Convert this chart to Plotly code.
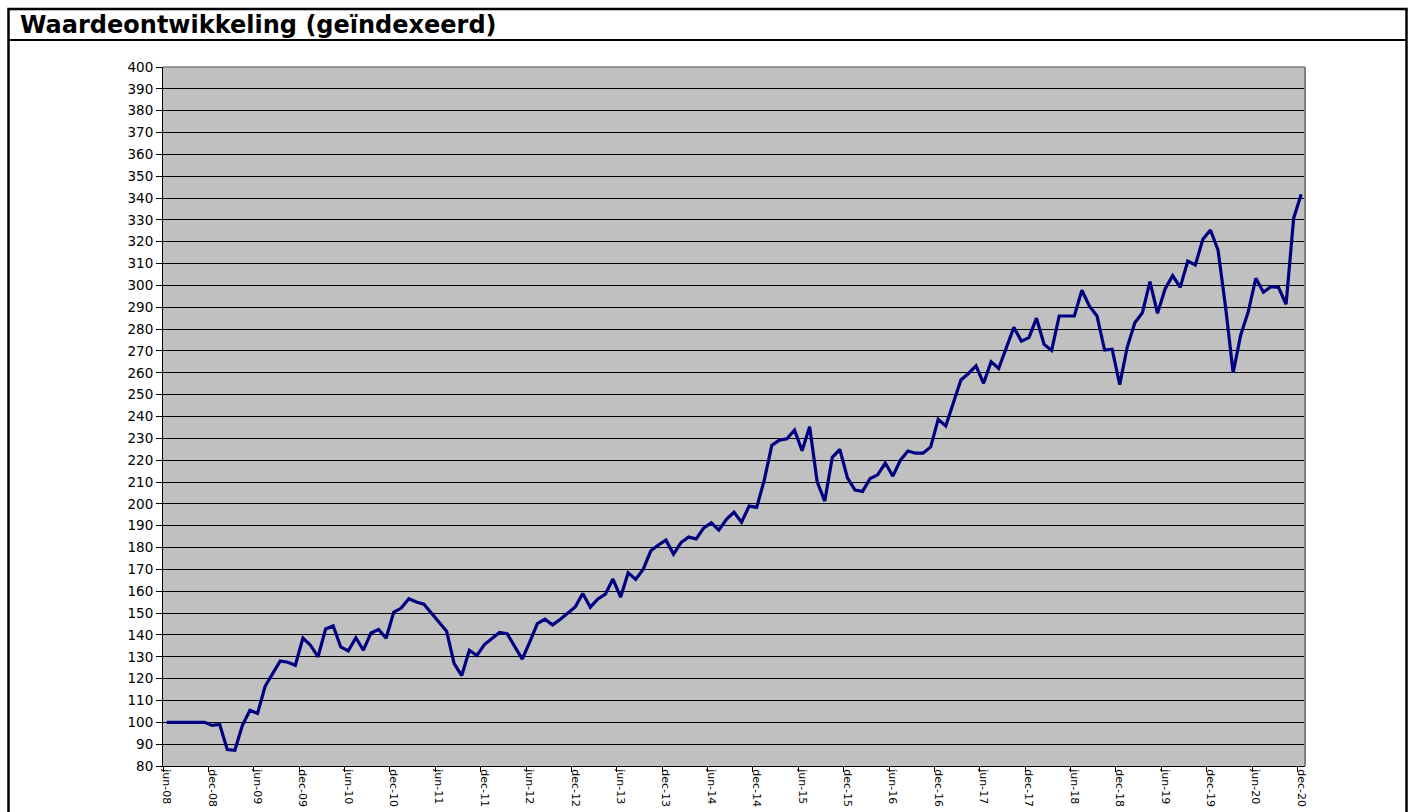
import plotly.graph_objects as go

# ---- data -------------------------------------------------------------
month_names = ["jan", "feb", "mrt", "apr", "mei", "jun", "jul", "aug", "sep", "okt", "nov", "dec"]
start_year, start_month = 2008, 6   # jun-08
n_points = 151                       # through dec-20

months = []
for k in range(n_points):
    m = (start_month - 1 + k) % 12
    y = start_year + (start_month - 1 + k) // 12
    months.append(f"{month_names[m]}-{y % 100:02d}")

index_values = [
    100.0, 100.0, 100.0, 100.0, 100.0, 100.0, 98.6, 99.0, 87.5, 87.2,
    98.6, 105.5, 104.1, 116.5, 122.3, 128.1, 127.5, 126.1, 138.6, 135.3,
    130.0, 142.7, 144.1, 134.5, 132.7, 138.7, 133.0, 140.9, 142.5, 138.5,
    150.4, 152.3, 156.6, 155.1, 154.1, 149.8, 146.0, 141.7, 126.9, 121.4,
    133.0, 130.6, 135.6, 138.2, 141.1, 140.6, 135.0, 128.9, 136.8, 145.2,
    147.2, 144.6, 147.1, 149.8, 152.8, 159.0, 152.7, 156.5, 158.7, 165.6,
    157.3, 168.4, 165.4, 170.1, 178.5, 181.2, 183.4, 177.0, 182.3, 184.8,
    184.0, 189.0, 191.3, 188.0, 192.9, 196.2, 191.6, 199.0, 198.4, 210.9,
    226.8, 229.2, 229.8, 233.8, 224.3, 235.3, 210.1, 201.3, 221.3, 224.9,
    211.9, 206.3, 205.7, 211.6, 213.3, 218.7, 212.7, 220.0, 224.2, 223.2,
    223.2, 226.1, 238.7, 235.7, 246.0, 256.7, 259.7, 263.2, 255.2, 265.1,
    262.0, 271.7, 280.8, 274.5, 276.1, 285.0, 273.0, 270.3, 286.0, 286.0,
    286.0, 297.8, 290.5, 286.0, 270.4, 270.8, 254.6, 271.8, 282.9, 287.5,
    301.7, 287.2, 298.4, 304.5, 299.1, 311.2, 309.4, 321.1, 325.4, 316.2,
    290.0, 260.0, 277.3, 288.0, 303.3, 296.9, 299.4, 299.1, 291.4, 330.8,
    341.7,
]

title_text = "Waardeontwikkeling (geïndexeerd)"

# ---- figure -----------------------------------------------------------
W, H = 1415, 812
L, R, T, B = 163, 1305, 67, 766
pw, ph = R - L, B - T


def px(x):
    return (x - L) / pw


def py(y):
    return (B - y) / ph


fig = go.Figure()
fig.add_trace(go.Scatter(
    x=months, y=index_values, mode="lines",
    line=dict(color="#000080", width=3.2),
    hoverinfo="x+y", showlegend=False,
))

font_family = "DejaVu Sans, Verdana, sans-serif"

fig.update_layout(
    width=W, height=H,
    margin=dict(l=L, r=W - R, t=T, b=H - B, pad=0),
    paper_bgcolor="white",
    plot_bgcolor="#C0C0C0",
    font=dict(family=font_family, color="#000000"),
    xaxis=dict(
        type="category",
        tickmode="linear", tick0=0, dtick=6,
        tickson="boundaries",
        ticks="outside", ticklen=5, tickcolor="#000000", tickwidth=1,
        tickangle=90,
        tickfont=dict(size=11, color="#000000"),
        showgrid=False, zeroline=False,
        showline=True, linecolor="#000000", linewidth=1,
        range=[-0.5, n_points - 0.5],
        automargin=False,
    ),
    yaxis=dict(
        range=[80, 400], tick0=80, dtick=10,
        ticks="outside", ticklen=6, tickcolor="#000000", tickwidth=1,
        tickfont=dict(size=13.5, color="#000000"),
        showgrid=True, gridcolor="#000000", gridwidth=1,
        zeroline=False,
        showline=True, linecolor="#000000", linewidth=1,
        automargin=False,
    ),
    shapes=[
        # outer frame
        dict(type="rect", xref="paper", yref="paper",
             x0=px(8.5), x1=px(1406.5), y0=py(830), y1=py(9),
             line=dict(color="#000000", width=2.5), layer="above"),
        # title separator
        dict(type="line", xref="paper", yref="paper",
             x0=px(8.5), x1=px(1406.5), y0=py(40), y1=py(40),
             line=dict(color="#000000", width=2), layer="above"),
        # plot area border (top / right)
        dict(type="line", xref="paper", yref="paper",
             x0=0, x1=1, y0=1, y1=1,
             line=dict(color="#808080", width=1.5), layer="above"),
        dict(type="line", xref="paper", yref="paper",
             x0=1, x1=1, y0=0, y1=1,
             line=dict(color="#808080", width=2), layer="above"),
    ],
    annotations=[
        dict(text=f"<b>{title_text}</b>", xref="paper", yref="paper",
             x=px(18), y=py(25), xanchor="left", yanchor="middle",
             showarrow=False,
             font=dict(family=font_family, size=24, color="#000000")),
    ],
)

fig.write_html(
    "out.html",
    config={"displayModeBar": False},
    post_script="document.body.style.margin='0';document.body.style.overflow='hidden';",
)
